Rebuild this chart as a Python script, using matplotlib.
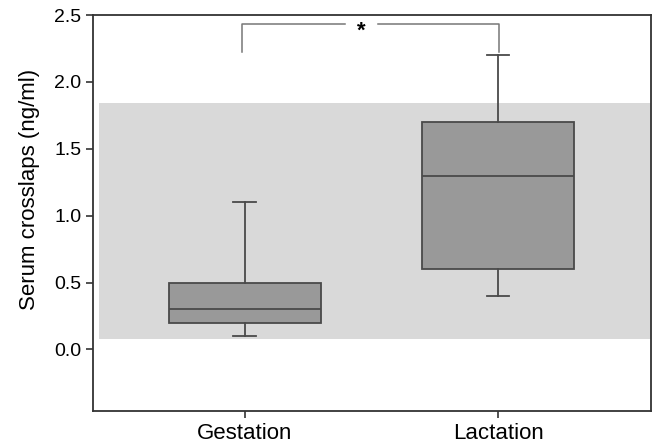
import matplotlib.pyplot as plt

plt.rcParams['font.family'] = ['Liberation Sans', 'DejaVu Sans']

# data
groups = ['Gestation', 'Lactation']
whislo = [0.1, 0.4]
q1 = [0.2, 0.6]
med = [0.3, 1.3]
q3 = [0.5, 1.7]
whishi = [1.1, 2.2]
ref_low, ref_high = 0.075, 1.84
bracket_base, bracket_top = 2.22, 2.43

fig = plt.figure(figsize=(6.53, 4.48), dpi=100)
ax = fig.add_axes([93 / 653, 1 - 411 / 448, 558 / 653, 396 / 448])

# reference range band
ax.axhspan(ref_low, ref_high, xmin=0.011, xmax=1, color='#d9d9d9', lw=0, zorder=0)

stats = [dict(label=g, whislo=lo, q1=a, med=m, q3=b, whishi=hi, fliers=[])
         for g, lo, a, m, b, hi in zip(groups, whislo, q1, med, q3, whishi)]
edge = '#4a4a4a'
ax.bxp(stats, positions=[1, 2], widths=0.6, capwidths=0.09, patch_artist=True,
       boxprops=dict(facecolor='#999999', edgecolor=edge, lw=1.3),
       medianprops=dict(color=edge, lw=1.3),
       whiskerprops=dict(color=edge, lw=1.3),
       capprops=dict(color=edge, lw=1.3), zorder=2)

# significance bracket
bc = '#777777'
ax.plot([0.988, 0.988, 1.395], [bracket_base, bracket_top, bracket_top], color=bc, lw=1.1)
ax.plot([1.526, 2.004, 2.004], [bracket_top, bracket_top, bracket_base], color=bc, lw=1.1)
ax.text(1.46, bracket_top - 0.05, '*', ha='center', va='center', fontsize=16, fontweight='bold')

ax.set_xlim(0.401, 2.604)
ax.set_ylim(-0.46, 2.5)
ax.set_yticks([0.0, 0.5, 1.0, 1.5, 2.0, 2.5])
ax.set_yticklabels(['0.0', '0.5', '1.0', '1.5', '2.0', '2.5'], fontsize=14)
ax.set_xticks([1, 2])
ax.set_xticklabels(groups, fontsize=16)
ax.set_ylabel('Serum crosslaps (ng/ml)', fontsize=16)
ax.yaxis.set_label_coords(-0.095, 0.559)
ax.tick_params(direction='out', length=5, width=1.2, color='#333333')
for s in ax.spines.values():
    s.set_linewidth(1.3)
    s.set_color('#333333')

fig.savefig('out.png', dpi=100)
